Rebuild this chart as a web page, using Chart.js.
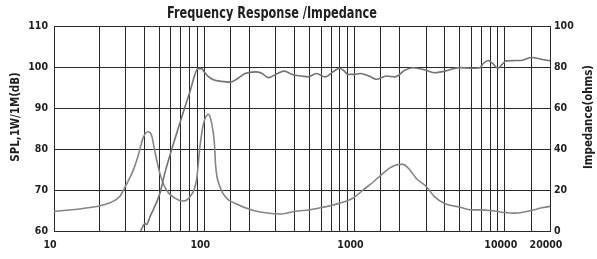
<!DOCTYPE html>
<html>
<head>
<meta charset="utf-8">
<script src="https://cdn.jsdelivr.net/npm/chart.js@4.4.1/dist/chart.umd.min.js"></script>
<style>
  html, body { margin: 0; padding: 0; background: #ffffff; }
  #wrap { width: 597px; height: 259px; }
</style>
</head>
<body>
<div id="wrap"><canvas id="c" width="597" height="259"></canvas></div>
<script>
// ---- Data ----
const chartTitle = "Frequency Response /Impedance";
const leftAxisTitle = "SPL,1W/1M(dB)";
const rightAxisTitle = "Impedance(ohms)";

const xGridValues = [10,20,30,40,50,60,70,80,90,100,150,200,300,400,500,600,700,800,900,1000,1500,2000,3000,4000,5000,6000,7000,8000,9000,10000,15000,20000];
const xLabelValues = [10,100,1000,10000,20000];

const splFreq = [37.7,40.3,41.5,43,50.7,54.8,70,80,91,96,100,107,115,130,148,164,187,218,241,267,310,342,373,400,445,490,558,637,724,794,843,907,1000,1088,1250,1396,1630,1856,2160,2450,3000,3430,4000,5000,6040,6850,7170,7770,8330,9000,9540,10200,12840,15000,17500,20000];
const splValues = [60,61.8,61.6,63,69.2,74.3,87.2,93.8,99.6,99.6,98.8,97.6,96.9,96.5,96.3,97,98.4,98.8,98.5,97.4,98.5,99,98.4,98,97.8,97.6,98.4,97.6,98.9,99.7,99.2,98.2,98.2,98.4,97.8,97,97.8,97.6,99.2,99.8,99.2,98.6,99,99.85,99.7,99.85,100.8,101.6,100.8,99.7,100.5,101.5,101.6,102.3,101.9,101.5];

const impFreq = [10,15.6,20,23.6,27.5,30,33.7,36.4,39.3,42.4,44.7,47,50.7,56,63.8,71.8,80.3,89,93.5,98.6,106.4,112,117,119,127,141,160,207,254,327,400,508,600,700,800,906,1000,1140,1330,1500,1720,2000,2100,2330,2580,3000,3430,4000,5000,6000,7000,8000,9000,10000,11700,15000,17600,20000];
const impValues = [9.5,11,12.2,13.8,17,22,29.7,37,45.7,48.4,46.5,38.5,28,20,16,14.6,16.7,25.2,40.8,52,56.9,52.6,42.3,32,21.7,16,13.5,10.2,8.9,8.3,9.6,10.4,11.4,12.5,13.6,14.9,16.5,20,23.9,27.3,30.8,32.5,32.5,29.9,25.6,21.7,16.5,13.3,11.7,10.3,10.3,10,9.5,9,8.7,10,11.3,12];

const leftMin = 60, leftMax = 110, leftStep = 10;
const rightMin = 0, rightMax = 100, rightStep = 20;

// ---- Styling ----
const FONT = "'DejaVu Sans Condensed', 'Liberation Sans', sans-serif";
const gridColor = '#2a2a2a';
const textColor = '#1e1e1e';

function drawCondensed(ctx, text, x, y, squeeze) {
  ctx.save();
  ctx.translate(x, y);
  ctx.scale(squeeze, 1);
  ctx.fillText(text, 0, 0);
  ctx.restore();
}

const textPlugin = {
  id: 'refTexts',
  afterDraw(chart) {
    const ctx = chart.ctx;
    const midY = 117;
    ctx.save();
    ctx.fillStyle = textColor;
    ctx.font = 'bold 15px ' + FONT;
    ctx.textAlign = 'center';
    ctx.textBaseline = 'alphabetic';
    drawCondensed(ctx, chartTitle, 272, 18, 0.84);

    ctx.font = 'bold 12px ' + FONT;
    ctx.textBaseline = 'middle';
    ctx.save();
    ctx.translate(16, midY);
    ctx.rotate(-Math.PI / 2);
    drawCondensed(ctx, leftAxisTitle, 0, 0, 0.95);
    ctx.restore();

    ctx.save();
    ctx.translate(589, midY);
    ctx.rotate(-Math.PI / 2);
    drawCondensed(ctx, rightAxisTitle, 0, 0, 0.95);
    ctx.restore();
    ctx.restore();
  }
};

const tickFont = { family: FONT, size: 10.5, weight: 'bold' };

const ctx = document.getElementById('c').getContext('2d');
new Chart(ctx, {
  type: 'line',
  data: {
    datasets: [
      {
        label: 'SPL',
        data: splFreq.map((f, i) => ({ x: f, y: splValues[i] })),
        yAxisID: 'yL',
        borderColor: '#737373',
        borderWidth: 1.6,
        pointRadius: 0,
        cubicInterpolationMode: 'monotone',
        fill: false
      },
      {
        label: 'Impedance',
        data: impFreq.map((f, i) => ({ x: f, y: impValues[i] })),
        yAxisID: 'yR',
        borderColor: '#858585',
        borderWidth: 1.6,
        pointRadius: 0,
        cubicInterpolationMode: 'monotone',
        fill: false
      }
    ]
  },
  options: {
    responsive: false,
    animation: false,
    events: [],
    layout: { padding: { top: 26, left: 0, right: 0, bottom: 0 } },
    plugins: { legend: { display: false }, title: { display: false }, tooltip: { enabled: false } },
    scales: {
      x: {
        type: 'logarithmic',
        min: 10,
        max: 20000,
        afterBuildTicks(scale) { scale.ticks = xGridValues.map(v => ({ value: v })); },
        afterFit(scale) { scale.height = 28; },
        ticks: {
          autoSkip: false,
          maxRotation: 0,
          minRotation: 0,
          padding: 8,
          labelOffset: -4,
          color: textColor,
          font: tickFont,
          callback: (v) => xLabelValues.includes(v) ? String(v) : ''
        },
        grid: { color: gridColor, lineWidth: 1, drawTicks: false },
        border: { color: gridColor, width: 1 }
      },
      yL: {
        type: 'linear',
        position: 'left',
        min: leftMin,
        max: leftMax,
        afterFit(scale) { scale.width = 54; },
        ticks: {
          stepSize: leftStep,
          padding: 6,
          color: textColor,
          font: tickFont
        },
        grid: { color: gridColor, lineWidth: 1, drawTicks: false },
        border: { color: gridColor, width: 1 }
      },
      yR: {
        type: 'linear',
        position: 'right',
        min: rightMin,
        max: rightMax,
        afterFit(scale) { scale.width = 47; },
        ticks: {
          stepSize: rightStep,
          padding: 4,
          color: textColor,
          font: tickFont
        },
        grid: { drawOnChartArea: false, drawTicks: false },
        border: { color: gridColor, width: 1 }
      }
    }
  },
  plugins: [textPlugin]
});
</script>
</body>
</html>
